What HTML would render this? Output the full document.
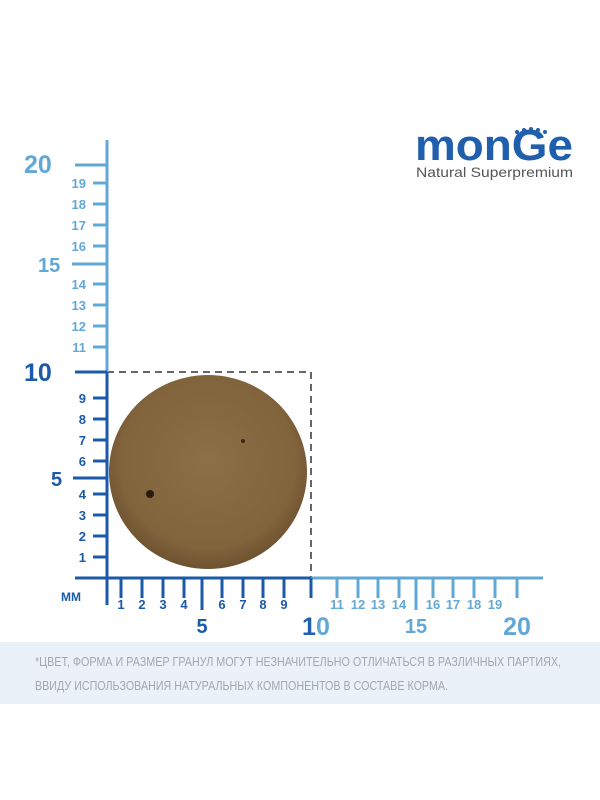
<!DOCTYPE html>
<html><head><meta charset="utf-8"><style>
html,body{margin:0;padding:0;background:#fff;}
svg{display:block;}
</style></head><body>
<svg width="600" height="800" viewBox="0 0 600 800" xmlns="http://www.w3.org/2000/svg" font-family="Liberation Sans, sans-serif">
<defs>
<radialGradient id="kg" cx="50%" cy="45%" r="55%">
<stop offset="0" stop-color="#8c6f45"/><stop offset="0.8" stop-color="#82643c"/><stop offset="1" stop-color="#6e5230"/>
</radialGradient>
</defs>
<rect x="0" y="642" width="600" height="62" fill="#eaf1f8"/>
<text x="35" y="666" font-family="Liberation Sans Narrow, Liberation Sans, sans-serif" font-size="13" fill="#a3a8ad" textLength="526" lengthAdjust="spacingAndGlyphs">*ЦВЕТ, ФОРМА И РАЗМЕР ГРАНУЛ МОГУТ НЕЗНАЧИТЕЛЬНО ОТЛИЧАТЬСЯ В РАЗЛИЧНЫХ ПАРТИЯХ,</text>
<text x="35" y="690" font-family="Liberation Sans Narrow, Liberation Sans, sans-serif" font-size="13" fill="#a3a8ad" textLength="413" lengthAdjust="spacingAndGlyphs">ВВИДУ ИСПОЛЬЗОВАНИЯ НАТУРАЛЬНЫХ КОМПОНЕНТОВ В СОСТАВЕ КОРМА.</text>

<!-- logo -->
<text x="415" y="160" font-size="44" font-weight="bold" fill="#1f5fae" textLength="158" lengthAdjust="spacingAndGlyphs">monGe</text>
<g fill="#1f5fae"><circle cx="517" cy="132" r="2"/><circle cx="524" cy="130" r="2"/><circle cx="531" cy="129" r="2"/><circle cx="538" cy="130" r="2"/><circle cx="545" cy="132" r="2"/></g>
<text x="416" y="177" font-size="14" fill="#555" textLength="157" lengthAdjust="spacingAndGlyphs">Natural Superpremium</text>

<!-- kibble -->
<ellipse cx="208" cy="472" rx="99" ry="97" fill="url(#kg)"/>
<circle cx="150" cy="494" r="4" fill="#2a1a0c"/>
<circle cx="243" cy="441" r="2" fill="#3a2812"/>

<!-- dashed box -->
<path d="M107 372 H311 V578" fill="none" stroke="#666" stroke-width="2" stroke-dasharray="7,5"/>

<!-- light upper axis -->
<g stroke="#62a8d6" stroke-width="3">
<line x1="107" y1="140" x2="107" y2="372"/>
<line x1="75" y1="165" x2="107" y2="165"/>
<line x1="72" y1="264" x2="107" y2="264"/>
<line x1="93" y1="183" x2="107" y2="183"/><line x1="93" y1="204" x2="107" y2="204"/>
<line x1="93" y1="225" x2="107" y2="225"/><line x1="93" y1="246" x2="107" y2="246"/>
<line x1="93" y1="284" x2="107" y2="284"/><line x1="93" y1="305" x2="107" y2="305"/>
<line x1="93" y1="326" x2="107" y2="326"/><line x1="93" y1="347" x2="107" y2="347"/>
<line x1="311" y1="578" x2="543" y2="578"/>
<line x1="337" y1="578" x2="337" y2="598"/><line x1="358" y1="578" x2="358" y2="598"/>
<line x1="378" y1="578" x2="378" y2="598"/><line x1="399" y1="578" x2="399" y2="598"/>
<line x1="416" y1="578" x2="416" y2="610"/>
<line x1="433" y1="578" x2="433" y2="598"/><line x1="453" y1="578" x2="453" y2="598"/>
<line x1="474" y1="578" x2="474" y2="598"/><line x1="495" y1="578" x2="495" y2="598"/>
<line x1="517" y1="578" x2="517" y2="598"/>
</g>
<g fill="#62a8d6" font-weight="bold">
<text x="24" y="173" font-size="25">20</text>
<text x="38" y="272" font-size="20">15</text>
<g font-size="13" text-anchor="end">
<text x="86" y="188">19</text><text x="86" y="209">18</text><text x="86" y="230">17</text><text x="86" y="251">16</text>
<text x="86" y="289">14</text><text x="86" y="310">13</text><text x="86" y="331">12</text><text x="86" y="352">11</text>
</g>
<g font-size="13" text-anchor="middle">
<text x="337" y="609">11</text><text x="358" y="609">12</text><text x="378" y="609">13</text><text x="399" y="609">14</text>
<text x="433" y="609">16</text><text x="453" y="609">17</text><text x="474" y="609">18</text><text x="495" y="609">19</text>
</g>
<text x="416" y="633" font-size="20" text-anchor="middle">15</text>
<text x="517" y="635" font-size="25" text-anchor="middle">20</text>
<text x="302" y="635" font-size="25" fill="#1f5fae">1</text><text x="316" y="635" font-size="25">0</text>
</g>

<!-- dark lower axis -->
<g stroke="#1a5aa8" stroke-width="3">
<line x1="107" y1="372" x2="107" y2="605"/>
<line x1="75" y1="372" x2="107" y2="372"/>
<line x1="75" y1="578" x2="311" y2="578"/>
<line x1="73" y1="478" x2="107" y2="478"/>
<line x1="93" y1="398" x2="107" y2="398"/><line x1="93" y1="419" x2="107" y2="419"/>
<line x1="93" y1="440" x2="107" y2="440"/><line x1="93" y1="461" x2="107" y2="461"/>
<line x1="93" y1="494" x2="107" y2="494"/><line x1="93" y1="515" x2="107" y2="515"/>
<line x1="93" y1="536" x2="107" y2="536"/><line x1="93" y1="557" x2="107" y2="557"/>
<line x1="121" y1="578" x2="121" y2="598"/><line x1="142" y1="578" x2="142" y2="598"/>
<line x1="163" y1="578" x2="163" y2="598"/><line x1="184" y1="578" x2="184" y2="598"/>
<line x1="202" y1="578" x2="202" y2="610"/>
<line x1="222" y1="578" x2="222" y2="598"/><line x1="243" y1="578" x2="243" y2="598"/>
<line x1="263" y1="578" x2="263" y2="598"/><line x1="284" y1="578" x2="284" y2="598"/>
<line x1="311" y1="578" x2="311" y2="598"/>
</g>
<g fill="#1a5aa8" font-weight="bold">
<text x="24" y="381" font-size="25">10</text>
<text x="51" y="486" font-size="20">5</text>
<g font-size="13" text-anchor="end">
<text x="86" y="403">9</text><text x="86" y="424">8</text><text x="86" y="445">7</text><text x="86" y="466">6</text>
<text x="86" y="499">4</text><text x="86" y="520">3</text><text x="86" y="541">2</text><text x="86" y="562">1</text>
</g>
<text x="61" y="601" font-size="12">ММ</text>
<g font-size="13" text-anchor="middle">
<text x="121" y="609">1</text><text x="142" y="609">2</text><text x="163" y="609">3</text><text x="184" y="609">4</text>
<text x="222" y="609">6</text><text x="243" y="609">7</text><text x="263" y="609">8</text><text x="284" y="609">9</text>
</g>
<text x="202" y="633" font-size="20" text-anchor="middle">5</text>
</g>
</svg>
</body></html>
